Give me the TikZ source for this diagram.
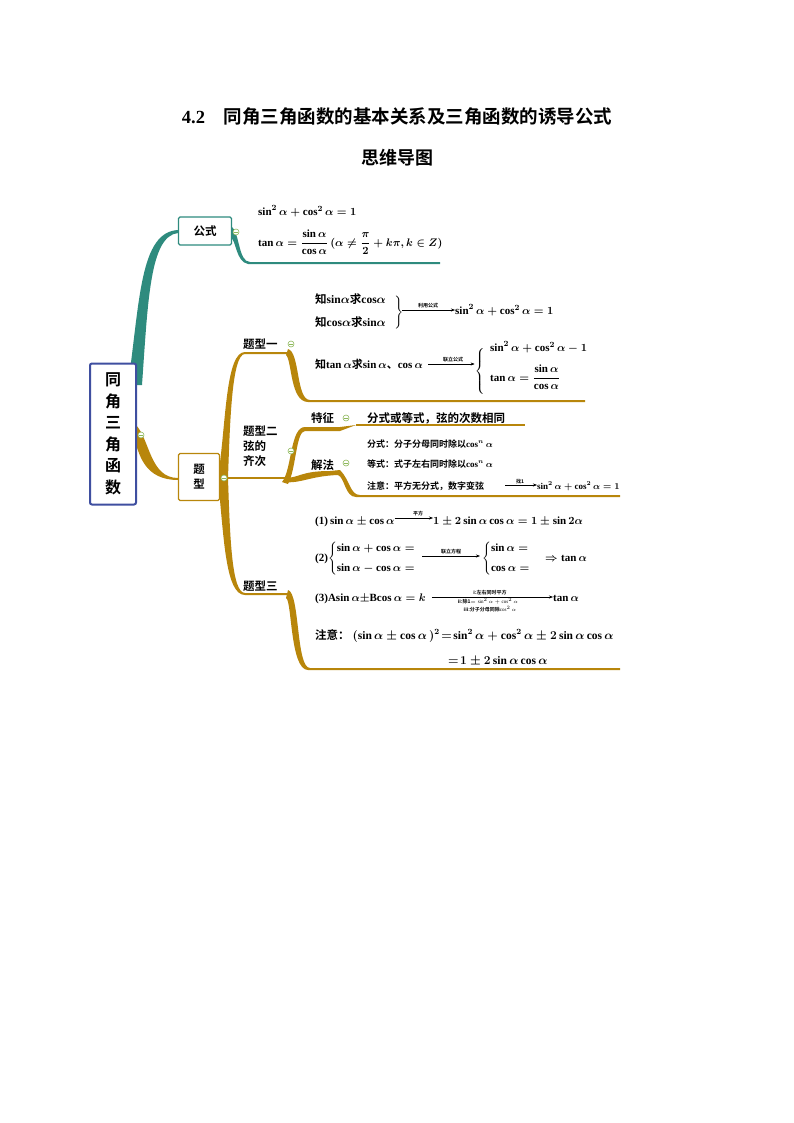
\documentclass[tikz,border=0pt]{standalone}
\usepackage{amsmath,amssymb}
\usepackage{fontspec}
\setmainfont{Liberation Serif}
\newfontfamily\cjk{Noto Sans CJK SC}[BoldFont={* Bold}]
\usetikzlibrary{arrows.meta}
\definecolor{teal1}{HTML}{2E8B7E}
\definecolor{brn}{HTML}{B8860B}
\definecolor{bluebox}{HTML}{3F4FA0}
\definecolor{minus}{HTML}{8DB85A}
\newcommand{\zh}[1]{{\cjk\bfseries #1}}
\newcommand{\al}{\alpha}
\begin{document}
\begin{tikzpicture}[x=1pt,y=-1pt,
  every node/.style={inner sep=0pt},
  txt/.style={anchor=base west,font=\fontsize{11}{13}\selectfont\bfseries\boldmath},
  sm/.style={anchor=base west,font=\fontsize{9}{11}\selectfont\bfseries\boldmath},
  lbl/.style={anchor=base west,font=\fontsize{11.5}{13}\selectfont\cjk\bfseries},
  tbox/.style={draw=teal1,line width=1.2pt,fill=white,rounded corners=1.5pt,font=\fontsize{11.5}{13}\selectfont\cjk\bfseries,align=center},
  bbox/.style={draw=brn,line width=1.2pt,fill=white,rounded corners=1.5pt,font=\fontsize{11.5}{15}\selectfont\cjk\bfseries,align=center},
  mn/.style={circle,draw=minus,fill=white,line width=0.6pt,minimum size=6pt,path picture={\draw[minus,line width=0.6pt] ([xshift=-1.6pt]path picture bounding box.center)--([xshift=1.6pt]path picture bounding box.center);}},
  bl/.style={brn,line width=2pt},
  ar/.style={-{Stealth[length=4pt]},line width=0.5pt},
  tiny/.style={font=\fontsize{5}{6}\selectfont\cjk\bfseries}]
\useasboundingbox (0,0) rectangle (794,1123);
% titles
\node[font=\fontsize{18.5}{20}\selectfont\bfseries] (t1) at (397,117) {4.2\quad\zh{同角三角函数的基本关系及三角函数的诱导公式}};
\node[font=\fontsize{18}{20}\selectfont\cjk\bfseries] (t2) at (397,158) {思维导图};
% branches teal
\fill[teal1] (128,385) .. controls (140,300) and (140,232) .. (178,230) -- (178,233) .. controls (150,236) and (148,300) .. (142,385) -- cycle;
\fill[teal1] (231,226) .. controls (240,232) and (238,262) .. (250,262) -- (440,262) -- (440,264) -- (248,264) .. controls (236,262) and (236,240) .. (231,238) -- cycle;
% brown main to 题型
\fill[brn] (136,425) .. controls (150,440) and (150,478) .. (178,478) -- (178,480) .. controls (145,480) and (140,455) .. (136,445) -- cycle;
% trunk
\fill[brn] (219,470) .. controls (226,420) and (226,352) .. (245,352) -- (290,352) -- (290,354) -- (245,354) .. controls (232,354) and (230,420) .. (228,478) .. controls (230,540) and (232,593) .. (245,593) -- (290,593) -- (290,595) -- (245,595) .. controls (226,595) and (224,540) .. (219,490) -- cycle;
\draw[bl,line width=1.8pt] (224,478) -- (285,478);
% 题型一 branch
\fill[brn] (288,349) .. controls (300,352) and (296,400) .. (310,400) -- (585,400) -- (585,402) -- (308,402) .. controls (290,402) and (292,360) .. (286,355) -- cycle;
% 题型二 branches
\fill[brn] (282,482) .. controls (292,470) and (290,427) .. (305,427) -- (340,427) -- (356,425) -- (340,431) -- (305,431) .. controls (296,431) and (296,470) .. (288,484) -- cycle;
\draw[brn,line width=1.5pt] (356,425) -- (525,425);
\fill[brn] (284,478) .. controls (300,478) and (300,471) .. (330,471) -- (340,470) .. controls (350,480) and (350,495) .. (360,495) -- (620,495) -- (620,497) -- (356,497) .. controls (345,497) and (345,478) .. (338,475) .. controls (310,476) and (300,484) .. (284,482) -- cycle;
% 题型三 branch
\fill[brn] (288,590) .. controls (300,593) and (296,668) .. (310,668) -- (620,668) -- (620,670) -- (308,670) .. controls (290,670) and (292,600) .. (286,598) -- cycle;
% boxes
\node[draw=bluebox,line width=2pt,fill=white,rounded corners=2pt,minimum width=46pt,minimum height=141pt,font=\fontsize{16}{21.5}\selectfont\cjk\bfseries,align=center] (main) at (113,434) {同\\角\\三\\角\\函\\数};
\node[tbox,minimum width=53pt,minimum height=28pt] (gs) at (205,231) {公式};
\node[bbox,minimum width=41pt,minimum height=47pt] (tx) at (199,477) {题\\型};
\node[mn] (m1) at (236,232) {};
\node[mn] (m2) at (141,435) {};
\node[mn] (m3) at (224,478) {};
\node[mn] (m4) at (291,344) {};
\node[mn] (m5) at (291,451) {};
\node[mn] (m6) at (346,418) {};
\node[mn] (m7) at (346,463) {};
% labels
\node[lbl] (l1) at (243,348) {题型一};
\node[lbl,anchor=north west,align=left,font=\fontsize{11.5}{15}\selectfont\cjk\bfseries] (l2) at (243,426) {题型二\\弦的\\齐次};
\node[lbl] (l3) at (243,590) {题型三};
\node[lbl] (l4) at (311,422) {特征};
\node[lbl] (l5) at (311,469) {解法};
% 公式 content
\node[txt] (f1) at (258,215) {$\sin^2\al+\cos^2\al=1$};
\node[txt] (f2) at (258,246) {$\tan\al=\dfrac{\sin\al}{\cos\al}\,(\al\neq\dfrac{\pi}{2}+k\pi,k\in Z)$};
% 题型一 content
\node[txt,font=\fontsize{11.5}{13}\selectfont\bfseries\boldmath] (a1) at (315,303) {\zh{知}sin$\al$\zh{求}cos$\al$};
\node[txt,font=\fontsize{11.5}{13}\selectfont\bfseries\boldmath] (a2) at (315,326) {\zh{知}cos$\al$\zh{求}sin$\al$};
\node[txt] (brace1) at (393,315) {$\left.\vphantom{\rule{0pt}{20pt}}\right\}$};
\coordinate (a3s) at (402,310);
\node[txt] (a3) at (455,314) {$\sin^2\al+\cos^2\al=1$};
\draw[ar] (a3s) -- (a3.west |- a3s);
\node[tiny,anchor=south] at (428,308) {利用公式};
\node[txt] (b1) at (315,368) {\zh{知}$\tan\al$\zh{求}$\sin\al$\zh{、}$\cos\al$};
\node[txt,anchor=base east] (b2) at (486,374) {$\left\{\vphantom{\rule{0pt}{26pt}}\right.$};
\coordinate (b3s) at (428,364);
\draw[ar] (b3s) -- (b2.west |- b3s);
\node[tiny,anchor=south] at (453,362) {联立公式};
\node[txt] (b4) at (490,351) {$\sin^2\al+\cos^2\al-1$};
\node[txt] (b5) at (490,381) {$\tan\al=\dfrac{\sin\al}{\cos\al}$};
% 题型二 content
\node[lbl] (c1) at (367,422) {分式或等式，弦的次数相同};
\node[sm] (c2) at (367,447) {\zh{分式：分子分母同时除以}$\cos^n\al$};
\node[sm] (c3) at (367,467) {\zh{等式：式子左右同时除以}$\cos^n\al$};
\node[sm] (c4) at (367,489) {\zh{注意：平方无分式，数字变弦}};
\coordinate (c5s) at (505,485);
\node[sm] (c5) at (537,489) {$\sin^2\al+\cos^2\al=1$};
\draw[ar] (c5s) -- (c5.west |- c5s);
\node[tiny,anchor=south] at (520,484) {找1};
% 题型三 content
\node[txt] (d1) at (315,524) {(1)$\,\sin\al\pm\cos\al$};
\node[txt] (d1b) at (433,524) {$1\pm2\sin\al\cos\al=1\pm\sin2\al$};
\draw[ar] (d1.east |- 0,518) -- (d1b.west |- 0,518);
\node[tiny,anchor=south] at (418,516) {平方};
\node[txt] (d2) at (315,561) {(2)$\begin{cases}\sin\al+\cos\al=\\[4pt]\sin\al-\cos\al=\end{cases}$};
\node[txt] (d2b) at (482,561) {$\begin{cases}\sin\al=\\[4pt]\cos\al=\end{cases}\Rightarrow\tan\al$};
\draw[ar] (422,556) -- (480,556);
\node[tiny,anchor=south] at (451,554) {联立方程};
\node[txt] (d3) at (315,601) {(3)A$\sin\al\pm$B$\cos\al=k$};
\node[txt] (d3b) at (553,601) {$\tan\al$};
\draw[ar] ([xshift=6pt]d3.east |- 0,597) -- (d3b.west |- 0,597);
\node[tiny,anchor=south] at (490,595) {i:左右同时平方};
\node[tiny,anchor=north] at (488,598) {ii:除1$=\sin^2\al+\cos^2\al$};
\node[tiny,anchor=north] at (490,606) {iii:分子分母同除$\cos^2\al$};
\node[txt,font=\fontsize{11.5}{13}\selectfont\bfseries\boldmath] (d4) at (315,639) {\zh{注意：}\ $(\sin\al\pm\cos\al\,)^2\!=\!\sin^2\al+\cos^2\al\pm2\sin\al\cos\al$};
\node[txt,font=\fontsize{11.5}{13}\selectfont\bfseries\boldmath] (d5) at (448,664) {$=\!1\pm2\sin\al\cos\al$};
\end{tikzpicture}
\end{document}
